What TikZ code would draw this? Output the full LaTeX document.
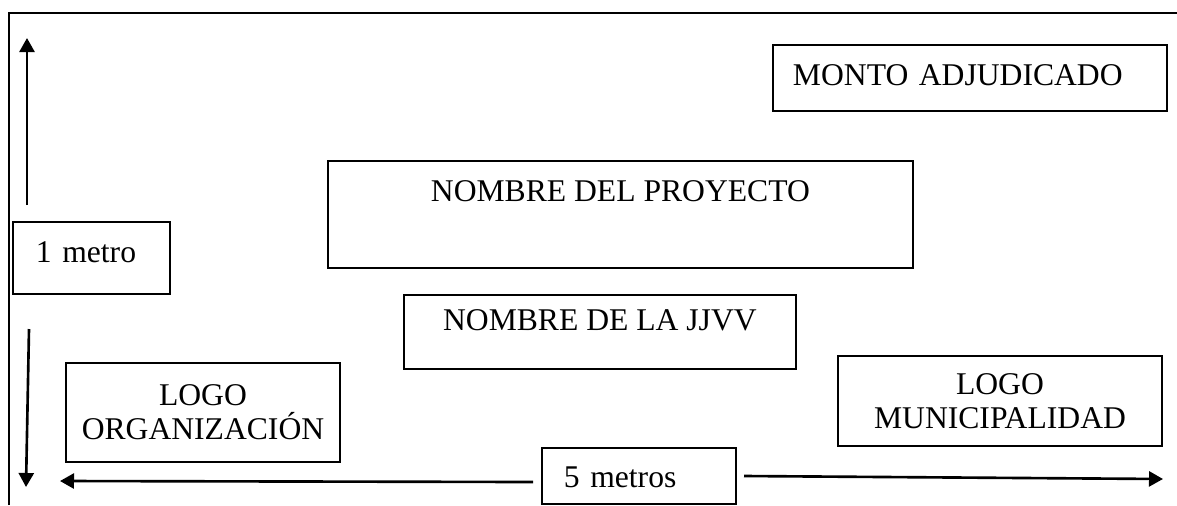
\documentclass[tikz,border=0pt]{standalone}
\usepackage{fontspec}
\setmainfont{Liberation Serif}
\usepackage{tikz}
\usetikzlibrary{positioning}
\usetikzlibrary{arrows.meta}

\begin{document}
\begin{tikzpicture}[x=0.02cm,y=-0.02cm,
    sign/.style={draw,line width=1.1pt,inner ysep=0pt,font=\fontsize{18}{19.5}\selectfont},
    dimarrow/.style={-{Triangle[length=0.28cm,width=0.3cm]},line width=1.5pt}]
  \useasboundingbox (0,0) rectangle (1177,505);
  % frame of the sign
  \draw[line width=1.1pt] (9,505) -- (9,13) -- (1177,13);
  % boxes
  \node[sign,anchor=north west,inner xsep=0.4cm,text width=7.08cm,align=left,
        text height=0.82cm,text depth=0.5cm] (monto) at (772,44) {MONTO ADJUDICADO};
  \node[sign,anchor=north west,minimum width=11.7cm,align=center,
        text height=0.82cm,text depth=1.32cm] (proyecto) at (327,160) {NOMBRE DEL PROYECTO};
  \node[sign,anchor=north west,inner xsep=0.46cm,text width=2.22cm,align=left,
        text height=0.82cm,text depth=0.62cm] (metro) at (12,221) {1 metro};
  \node[sign,anchor=north west,minimum width=7.84cm,align=center,
        text height=0.72cm,text depth=0.76cm] (jjvv) at (403,294) {NOMBRE DE LA JJVV};
  \node[sign,minimum width=5.48cm,minimum height=1.98cm,align=center]
        (organizacion) at (203,412.5) {LOGO\\ORGANIZACIÓN};
  \node[sign,minimum width=6.48cm,minimum height=1.8cm,align=center]
        (municipalidad) at (1000,401) {LOGO\\MUNICIPALIDAD};
  \node[sign,anchor=north west,inner xsep=0.44cm,text width=3.0cm,align=left,
        text height=0.8cm,text depth=0.32cm] (metros) at (541,447) {5 metros};
  % measures
  \coordinate (upfrom) at (27,205);
  \coordinate (upto) at (27,38);
  \coordinate (downfrom) at (29,329);
  \coordinate (downto) at (26,487);
  \coordinate (leftfrom) at (533,482);
  \coordinate (leftto) at (60,481);
  \coordinate (rightfrom) at (744,476);
  \coordinate (rightto) at (1163,479);
  \path[dimarrow]
    (upfrom) edge (upto)
    (downfrom) edge (downto)
    (leftfrom) edge (leftto)
    (rightfrom) edge (rightto);
\end{tikzpicture}
\end{document}
